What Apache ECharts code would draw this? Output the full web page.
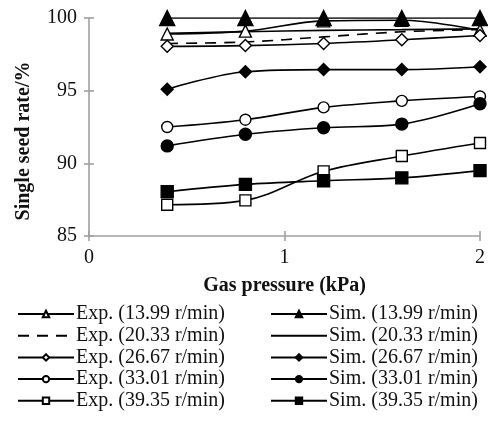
<!DOCTYPE html>
<html><head><meta charset="utf-8">
<script src="https://cdn.jsdelivr.net/npm/echarts@6/dist/echarts.min.js"></script>
<style>html,body{margin:0;padding:0;background:#fff}#c{width:488px;height:423px}</style>
</head><body><div id="c"></div>
<script>
const pressure = [0.4, 0.8, 1.2, 1.6, 2.0];
const xTicks = [0, 1, 2];
const yTicks = [85, 90, 95, 100];
const exp13 = [98.9, 99.1, 99.8, 99.85, 99.15];
const sim13 = [100, 100, 100, 100, 100];
const exp20 = [98.25, 98.35, 98.7, 99.05, 99.2];
const sim20 = [98.95, 99.05, 99.15, 99.2, 99.25];
const exp26 = [98.05, 98.1, 98.25, 98.5, 98.8];
const sim26 = [95.1, 96.3, 96.45, 96.45, 96.65];
const exp33 = [92.5, 93.0, 93.85, 94.3, 94.6];
const sim33 = [91.2, 92.0, 92.45, 92.7, 94.1];
const exp39 = [87.15, 87.45, 89.45, 90.5, 91.4];
const sim39 = [88.05, 88.55, 88.8, 89.0, 89.5];

const FONT = 'Liberation Serif';
const pts = v => pressure.map((p, i) => [p, v[i]]);
function s(name, data, symbol, filled, size, dashed) {
  const none = symbol === 'none';
  return {
    name, type: 'line', data: pts(data), smooth: 0.35,
    symbol: symbol, symbolSize: size, showSymbol: !none,
    lineStyle: { color: '#000', width: 1.6, type: dashed ? [11, 8] : 'solid' },
    itemStyle: none ? { color: 'rgba(0,0,0,0)', borderColor: 'rgba(0,0,0,0)', borderWidth: 0 }
                    : { color: filled ? '#000' : '#fff', borderColor: '#000', borderWidth: 1.4 },
    emphasis: { disabled: true }, animation: false
  };
}
const series = [
  s('Exp. (13.99 r/min)', exp13, 'triangle', false, 12),
  s('Exp. (20.33 r/min)', exp20, 'none', false, 0, true),
  s('Exp. (26.67 r/min)', exp26, 'diamond', false, 12),
  s('Exp. (33.01 r/min)', exp33, 'circle', false, 11),
  s('Exp. (39.35 r/min)', exp39, 'rect', false, 11),
  s('Sim. (20.33 r/min)', sim20, 'none', true, 0),
  s('Sim. (26.67 r/min)', sim26, 'diamond', true, 12),
  s('Sim. (33.01 r/min)', sim33, 'circle', true, 12),
  s('Sim. (39.35 r/min)', sim39, 'rect', true, 12),
  s('Sim. (13.99 r/min)', sim13, 'triangle', true, 15)
];
const axisCol = '#a0a0a0';
const legendBase = {
  orient: 'vertical', itemWidth: 56, itemHeight: 8, itemGap: 1.7,
  textStyle: { fontFamily: FONT, fontSize: 20, color: '#111', lineHeight: 20, padding: [0, 0, 0, -3] },
  selectedMode: false
};
const chart = echarts.init(document.getElementById('c'), null, { renderer: 'canvas' });
chart.setOption({
  backgroundColor: '#fff',
  animation: false,
  grid: { left: 89, right: 8, top: 18, bottom: 187, containLabel: false },
  xAxis: [{
    type: 'value', min: xTicks[0], max: xTicks[xTicks.length - 1], interval: 1,
    axisLine: { lineStyle: { color: axisCol, width: 1.6 } },
    axisTick: { show: true, length: 5, lineStyle: { color: axisCol, width: 1.6 } },
    axisLabel: { fontFamily: FONT, fontSize: 20, color: '#111', margin: 12 },
    splitLine: { show: false },
    name: 'Gas pressure (kPa)', nameLocation: 'middle', nameGap: 40,
    nameTextStyle: { fontFamily: FONT, fontSize: 20, fontWeight: 'bold', color: '#111' }
  }, {
    type: 'value', min: 0, max: 2, interval: 1, position: 'bottom',
    axisLine: { show: false },
    axisTick: { show: true, inside: true, length: 5, lineStyle: { color: axisCol, width: 1.6 } },
    axisLabel: { show: false }, splitLine: { show: false }
  }],
  yAxis: [{
    type: 'value', min: yTicks[0], max: yTicks[yTicks.length - 1], interval: 5,
    axisLine: { show: true, lineStyle: { color: axisCol, width: 1.6 } },
    axisTick: { show: true, length: 5, lineStyle: { color: axisCol, width: 1.6 } },
    axisLabel: { fontFamily: FONT, fontSize: 20, color: '#111', margin: 12 },
    splitLine: { show: false },
    name: 'Single seed rate/%', nameLocation: 'middle', nameGap: 55, nameRotate: 90,
    nameTextStyle: { fontFamily: FONT, fontSize: 20, fontWeight: 'bold', color: '#111', padding: [0, 28, 0, 0] }
  }, {
    type: 'value', min: 85, max: 100, interval: 5, position: 'left',
    axisLine: { show: false },
    axisTick: { show: true, inside: true, length: 5, lineStyle: { color: axisCol, width: 1.6 } },
    axisLabel: { show: false }, splitLine: { show: false }
  }],
  legend: [
    Object.assign({}, legendBase, { left: 12, top: 299, data: ['Exp. (13.99 r/min)', 'Exp. (20.33 r/min)', 'Exp. (26.67 r/min)', 'Exp. (33.01 r/min)', 'Exp. (39.35 r/min)'] }),
    Object.assign({}, legendBase, { left: 265, top: 299, data: ['Sim. (13.99 r/min)', 'Sim. (20.33 r/min)', 'Sim. (26.67 r/min)', 'Sim. (33.01 r/min)', 'Sim. (39.35 r/min)'] })
  ],
  series: series
});
</script></body></html>
